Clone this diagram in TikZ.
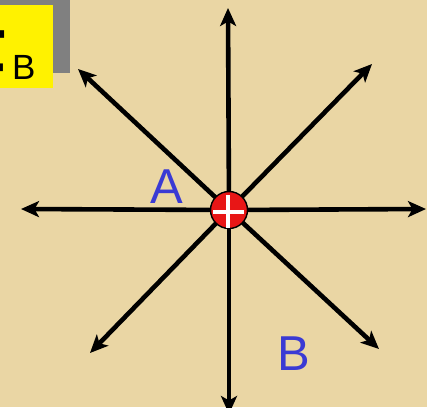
\documentclass[tikz,border=0pt]{standalone}
\usepackage{fontspec}
\setmainfont{Liberation Sans}
\usetikzlibrary{arrows.meta}
\definecolor{papyrus}{RGB}{234,214,164}
\definecolor{labelblue}{RGB}{58,58,212}
\definecolor{chargered}{RGB}{232,22,22}
\definecolor{shadowgray}{RGB}{128,128,128}
\tikzset{
  field line/.style={line width=4.6pt,-{Stealth[length=18pt,width=16pt,inset=4.5pt]}},
  point label/.style={font=\fontsize{49}{49}\selectfont,text=labelblue,inner sep=0pt},
  charge dot/.style={circle,draw=black,line width=1.4pt,fill=chargered,minimum size=37pt,inner sep=0pt},
  plus bar/.style={white,line width=3.8pt}
}

\begin{document}
\begin{tikzpicture}[x=1pt,y=-1pt,line join=round]
  \useasboundingbox (0,0) rectangle (427,407);
  \fill[papyrus] (0,0) rectangle (427,407);

  % title box F_B
  \fill[shadowgray] (0,0) rectangle (70,73);
  \fill[yellow] (0,5) rectangle (53,88);
  \begin{scope}
    \clip (0,5) rectangle (53,88);
    \node[anchor=north east,inner sep=0pt,font=\fontsize{100}{100}\selectfont] (fsym) at (9,30) {F};
    \node[anchor=north west,inner sep=0pt,font=\fontsize{35}{35}\selectfont] (fsub) at (12,55) {B};
  \end{scope}

  % field lines of the charge
  \coordinate (q) at (229,210);
  \coordinate (tN)  at (228,8);
  \coordinate (tS)  at (229,414);
  \coordinate (tW)  at (21,209);
  \coordinate (tE)  at (426,209);
  \coordinate (tNW) at (78,69);
  \coordinate (tNE) at (372,64);
  \coordinate (tSW) at (90,353);
  \coordinate (tSE) at (379,349);
  \foreach \t in {tN,tS,tW,tE,tNW,tNE,tSW,tSE} {\draw[field line] (q) -- (\t);}

  \node[charge dot] (charge) at (q) {};
  \draw[plus bar] (213,212) -- (244,212) (228,195) -- (228,228);

  \node[point label,anchor=north west] (ptA) at (150,170) {A};
  \node[point label,anchor=north west] (ptB) at (277,337) {B};
\end{tikzpicture}
\end{document}
